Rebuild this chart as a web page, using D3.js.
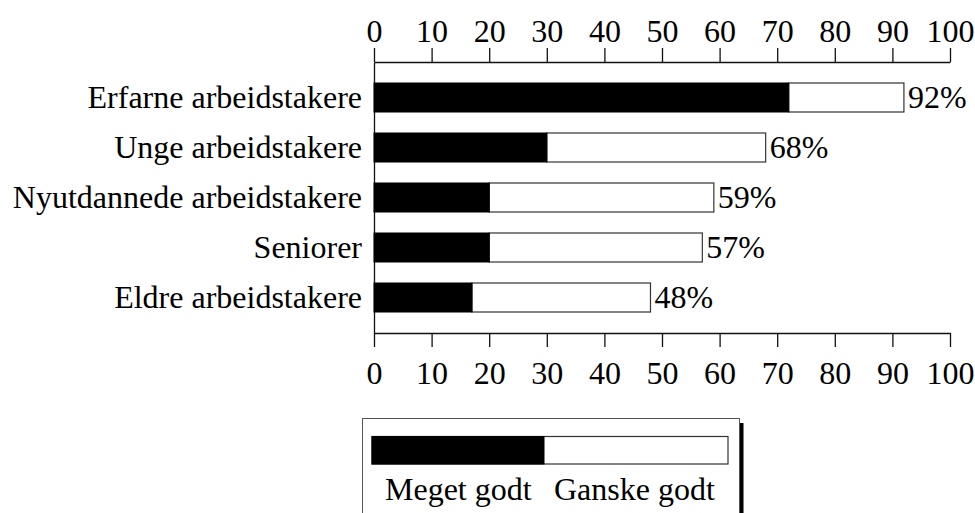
<!DOCTYPE html>
<html>
<head>
<meta charset="utf-8">
<script src="https://cdn.jsdelivr.net/npm/d3@7"></script>
<style>
  html, body { margin: 0; padding: 0; background: #fff; }
  svg { display: block; }
  text { font-family: "Liberation Serif", "Times New Roman", serif; fill: #000; }
</style>
</head>
<body>
<svg id="chart" width="975" height="513"></svg>
<script>
const categories = ["Erfarne arbeidstakere", "Unge arbeidstakere", "Nyutdannede arbeidstakere", "Seniorer", "Eldre arbeidstakere"];
const megetGodt = [72, 30, 20, 20, 17];
const ganskeGodt = [20, 38, 39, 37, 31];
const totalLabels = ["92%", "68%", "59%", "57%", "48%"];
const xTicks = [0, 10, 20, 30, 40, 50, 60, 70, 80, 90, 100];
const seriesNames = ["Meget godt", "Ganske godt"];

(function () {
const svg = d3.select("#chart");
const fontSize = 32;

const x = d3.scaleLinear().domain([0, 100]).range([374, 950]);
const y = d3.scaleBand().domain(categories).range([62, 333]).paddingInner(0.42).paddingOuter(0.42);

// Top axis
const topAxis = svg.append("g").attr("transform", "translate(0,62)")
  .call(d3.axisTop(x).tickValues(xTicks).tickSize(14).tickSizeOuter(0).tickPadding(6));
// Bottom axis
const bottomAxis = svg.append("g").attr("transform", "translate(0,333)")
  .call(d3.axisBottom(x).tickValues(xTicks).tickSize(14).tickSizeOuter(0).tickPadding(14));
// Left axis
const leftAxis = svg.append("g").attr("transform", "translate(374,0)")
  .call(d3.axisLeft(y).tickSize(0).tickSizeOuter(0).tickPadding(12));
leftAxis.selectAll("text").attr("dy", "0.33em");

[topAxis, bottomAxis, leftAxis].forEach(g => {
  g.selectAll("text").style("font-family", '"Liberation Serif", serif').style("font-size", fontSize + "px").attr("fill", "#000");
  g.selectAll("line, path").attr("stroke", "#111").attr("stroke-width", 1.3);
});

// Bars
const rows = categories.map((c, i) => ({ c, m: megetGodt[i], g: ganskeGodt[i], label: totalLabels[i] }));
const bars = svg.append("g");
bars.selectAll("rect.g").data(rows).join("rect")
  .attr("x", d => x(d.m))
  .attr("y", d => y(d.c))
  .attr("width", d => x(d.m + d.g) - x(d.m))
  .attr("height", y.bandwidth())
  .attr("fill", "#fff").attr("stroke", "#333").attr("stroke-width", 1.2);
bars.selectAll("rect.m").data(rows).join("rect")
  .attr("x", x(0))
  .attr("y", d => y(d.c))
  .attr("width", d => x(d.m) - x(0))
  .attr("height", y.bandwidth())
  .attr("fill", "#000").attr("stroke", "#000").attr("stroke-width", 1);
bars.selectAll("text").data(rows).join("text")
  .attr("x", d => x(d.m + d.g) + 4)
  .attr("y", d => y(d.c) + y.bandwidth() / 2)
  .attr("dy", "0.33em")
  .style("font-size", fontSize + "px")
  .text(d => d.label);

// Legend
const lg = svg.append("g");
lg.append("rect").attr("x", 740).attr("y", 423).attr("width", 3.5).attr("height", 100).attr("fill", "#000");
lg.append("rect").attr("x", 362.5).attr("y", 418.5).attr("width", 377).attr("height", 110)
  .attr("fill", "#fff").attr("stroke", "#555").attr("stroke-width", 1);
const lx = d3.scaleLinear().domain([0, 1]).range([372, 728]);
lg.append("rect").attr("x", lx(0)).attr("y", 436.5).attr("width", lx(1) - lx(0)).attr("height", 27.5)
  .attr("fill", "#fff").attr("stroke", "#333").attr("stroke-width", 1.2);
lg.append("rect").attr("x", lx(0)).attr("y", 436.5).attr("width", 544 - lx(0)).attr("height", 27.5)
  .attr("fill", "#000").attr("stroke", "#000").attr("stroke-width", 1);
lg.selectAll("text.leg").data(seriesNames).join("text")
  .attr("x", (d, i) => [385, 554][i])
  .attr("y", 500)
  .style("font-size", fontSize + "px")
  .text(d => d);
})();
</script>
</body>
</html>
